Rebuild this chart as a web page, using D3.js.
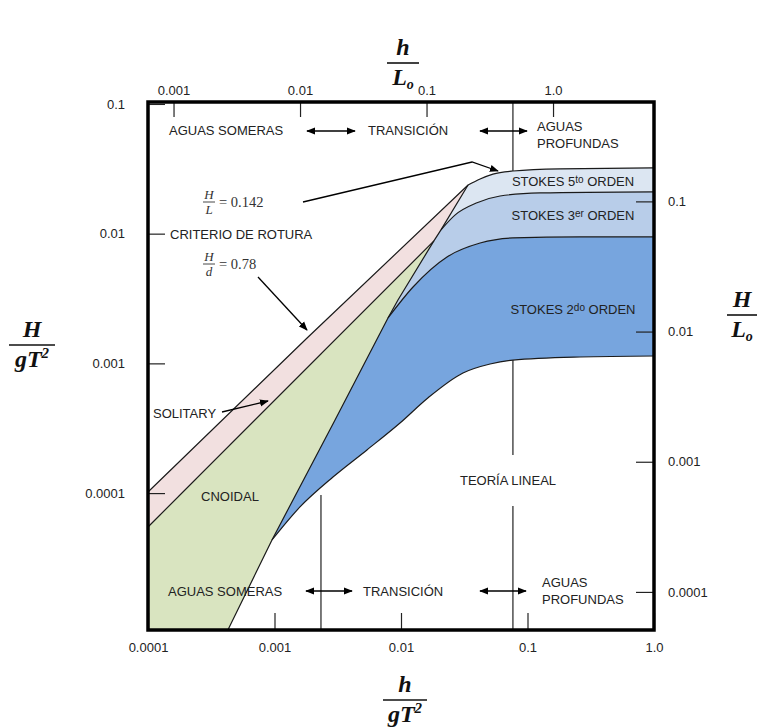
<!DOCTYPE html>
<html>
<head>
<meta charset="utf-8">
<script src="https://cdn.jsdelivr.net/npm/d3@7"></script>
<style>
body { margin: 0; background: #fff; }
svg { display: block; }
text { font-family: "Liberation Sans", Arial, sans-serif; fill: #222; }
.math text { font-family: "Liberation Serif", "Times New Roman", serif; font-style: italic; font-weight: bold; fill: #111; }
.small-math text { font-family: "Liberation Serif", "Times New Roman", serif; fill: #333; }
</style>
</head>
<body>
<svg width="758" height="727"></svg>
<script>
// tick values and labels
var bottomTicks = [0.0001, 0.001, 0.01, 0.1, 1];
var bottomLabels = ['0.0001', '0.001', '0.01', '0.1', '1.0'];
var leftTicks = [0.0001, 0.001, 0.01, 0.1];
var leftLabels = ['0.0001', '0.001', '0.01', '0.1'];
var topTicks = [0.001, 0.01, 0.1, 1];
var topLabels = ['0.001', '0.01', '0.1', '1.0'];
var rightTicks = [0.0001, 0.001, 0.01, 0.1];
var rightLabels = ['0.0001', '0.001', '0.01', '0.1'];

// boundary curves, points are [h/gT2, H/gT2]
var breakingLimit = [[0.0001, 0.000102], [0.00181, 0.00157], [0.0339, 0.0237], [0.0422, 0.0264],
    [0.0533, 0.0288], [0.0767, 0.0304], [0.181, 0.0316], [1, 0.0321]];
var solitaryLimit = [[0.0001, 0.0000548], [0.0182, 0.00879]];
var cnoidalLimit = [[0.000428, 0.0000088], [0.000955, 0.0000435], [0.00301, 0.000366], [0.00789, 0.00224],
    [0.00946, 0.00308], [0.0182, 0.00879], [0.0207, 0.0107], [0.0339, 0.0237]];
var stokes3Limit = [[0.0207, 0.0107], [0.0267, 0.0139], [0.0399, 0.0173], [0.0607, 0.0195],
    [0.1256, 0.0206], [1, 0.0210]];
var stokes2Limit = [[0.00789, 0.00224], [0.01245, 0.00388], [0.0231, 0.00661], [0.0422, 0.00847],
    [0.0767, 0.00927], [0.26, 0.00944], [1, 0.00944]];
var linearLimit = [[0.000955, 0.0000435], [0.00159, 0.0000782], [0.0029, 0.000133], [0.00538, 0.000215],
    [0.00982, 0.000347], [0.0163, 0.000541], [0.0309, 0.000843], [0.0506, 0.000989],
    [0.0767, 0.00106], [0.26, 0.00112], [1, 0.00114]];
// shallow / deep water limits: [h/gT2, H/gT2 from, H/gT2 to]
var depthLimits = [[0.00233, 0.0000088, 0.0000966], [0.0767, 0.0304, 0.1035],
    [0.0767, 0.000197, 0.00106], [0.0767, 0.0000088, 0.0000796]];

var svg = d3.select('svg');

var x = d3.scaleLog().domain([0.0001, 1]).range([148, 654]);
var y = d3.scaleLog().domain([0.0000088, 0.1035]).range([630, 102]);
// h/Lo and H/Lo scales (Lo = gT2 / 2pi)
var xTop = d3.scaleLog().domain([0.0001 * 2 * Math.PI, 2 * Math.PI]).range([148, 654]);
var yRight = d3.scaleLog().domain([0.000051, 0.58]).range([630, 102]);

var lin = d3.line().x(function(d){ return x(d[0]) }).y(function(d){ return y(d[1]) });
var smooth = d3.line().x(function(d){ return x(d[0]) }).y(function(d){ return y(d[1]) }).curve(d3.curveMonotoneX);

function rev(a) { return a.slice().reverse(); }
function cont(p) { return p.replace(/^M/, 'L'); }

var ymin = y.domain()[0];

var regions = [
    { fill: '#f2e0e0', d: lin(breakingLimit.slice(0, 3)) + cont(lin(rev(cnoidalLimit.slice(5)))) + cont(lin(rev(solitaryLimit))) + 'Z' },
    { fill: '#d9e4c0', d: lin(solitaryLimit) + cont(lin(rev(cnoidalLimit.slice(0, 6)).concat([[0.0001, ymin]]))) + 'Z' },
    { fill: '#dce6f2', d: smooth(breakingLimit.slice(2)) + cont(smooth(rev(stokes3Limit))) + cont(lin(cnoidalLimit.slice(6))) + 'Z' },
    { fill: '#b8cde9', d: smooth(stokes3Limit) + cont(smooth(rev(stokes2Limit))) + cont(lin(cnoidalLimit.slice(3, 7))) + 'Z' },
    { fill: '#77a5de', d: smooth(stokes2Limit) + cont(smooth(rev(linearLimit))) + cont(lin(cnoidalLimit.slice(1, 4))) + 'Z' }
];

svg.selectAll('path.region')
    .data(regions)
    .enter()
    .append('path')
    .attr('class', 'region')
    .attr('d', function(d){ return d.d })
    .attr('fill', function(d){ return d.fill })
    .attr('stroke', 'none');

var curves = [
    lin(breakingLimit.slice(0, 3)),
    smooth(breakingLimit.slice(2)),
    lin(solitaryLimit),
    lin(cnoidalLimit),
    smooth(stokes3Limit),
    smooth(stokes2Limit),
    smooth(linearLimit)
];

svg.selectAll('path.curve')
    .data(curves)
    .enter()
    .append('path')
    .attr('class', 'curve')
    .attr('d', function(d){ return d })
    .attr('fill', 'none')
    .attr('stroke', '#1a1a1a')
    .attr('stroke-width', 1.2);

svg.selectAll('line.limit')
    .data(depthLimits)
    .enter()
    .append('line')
    .attr('class', 'limit')
    .attr('x1', function(d){ return x(d[0]) })
    .attr('x2', function(d){ return x(d[0]) })
    .attr('y1', function(d){ return y(d[1]) })
    .attr('y2', function(d){ return y(d[2]) })
    .attr('stroke', '#222')
    .attr('stroke-width', 1.2);

// axes
function styleAxis(g) {
    g.select('.domain').remove();
    g.selectAll('.tick line').attr('stroke', '#222').attr('stroke-width', 1.2);
    g.selectAll('.tick text').attr('font-family', '"Liberation Sans", Arial, sans-serif').attr('font-size', 13).attr('fill', '#333');
}

svg.append('g')
    .attr('transform', 'translate(0,630)')
    .call(d3.axisBottom(x).tickValues(bottomTicks).tickFormat(function(d, i){ return bottomLabels[i] })
        .tickSizeInner(-17).tickSizeOuter(0).tickPadding(13))
    .call(styleAxis);

svg.append('g')
    .attr('transform', 'translate(148,0)')
    .call(d3.axisLeft(y).tickValues(leftTicks).tickFormat(function(d, i){ return leftLabels[i] })
        .tickSizeInner(-17).tickSizeOuter(0).tickPadding(23))
    .call(styleAxis);

svg.append('g')
    .attr('transform', 'translate(0,102)')
    .call(d3.axisTop(xTop).tickValues(topTicks).tickFormat(function(d, i){ return topLabels[i] })
        .tickSizeInner(-15).tickSizeOuter(0).tickPadding(7))
    .call(styleAxis);

svg.append('g')
    .attr('transform', 'translate(654,0)')
    .call(d3.axisRight(yRight).tickValues(rightTicks).tickFormat(function(d, i){ return rightLabels[i] })
        .tickSizeInner(-18).tickSizeOuter(0).tickPadding(14))
    .call(styleAxis);

// frame
svg.append('rect')
    .attr('x', 148).attr('y', 102)
    .attr('width', 506).attr('height', 528)
    .attr('fill', 'none')
    .attr('stroke', '#000')
    .attr('stroke-width', 3.5);

// arrow heads
var defs = svg.append('defs');
defs.append('marker')
    .attr('id', 'head')
    .attr('viewBox', '0 0 10 10')
    .attr('refX', 9).attr('refY', 5)
    .attr('markerWidth', 9).attr('markerHeight', 9)
    .attr('markerUnits', 'userSpaceOnUse')
    .attr('orient', 'auto-start-reverse')
    .append('path')
    .attr('d', 'M0,1 L10,5 L0,9 Z')
    .attr('fill', '#000');

function arrow(pts, both) {
    svg.append('path')
        .attr('d', d3.line()(pts))
        .attr('fill', 'none')
        .attr('stroke', '#000')
        .attr('stroke-width', 1.3)
        .attr('marker-end', 'url(#head)')
        .attr('marker-start', both ? 'url(#head)' : null);
}

function label(tx, ty, txt, anchor) {
    return svg.append('text')
        .attr('x', tx).attr('y', ty)
        .attr('dy', '0.35em')
        .attr('text-anchor', anchor || 'start')
        .attr('font-size', 13)
        .text(txt);
}

// water depth rows
label(169, 130, 'AGUAS SOMERAS');
arrow([[307, 131], [355, 131]], true);
label(368, 130, 'TRANSICIÓN');
arrow([[480, 131], [527, 131]], true);
label(537, 126, 'AGUAS');
label(537, 143, 'PROFUNDAS');

label(168, 591, 'AGUAS SOMERAS');
arrow([[306, 591], [352, 591]], true);
label(363, 591, 'TRANSICIÓN');
arrow([[480, 591], [526, 591]], true);
label(542, 582, 'AGUAS');
label(542, 599, 'PROFUNDAS');

label(508, 480, 'TEORÍA LINEAL', 'middle');
label(230, 496, 'CNOIDAL', 'middle');
label(153, 413, 'SOLITARY');
arrow([[222, 412], [268, 401]], false);
label(170, 234, 'CRITERIO DE ROTURA');

function stokes(cy, n, sup) {
    var t = label(573, cy, 'STOKES ' + n, 'middle');
    t.append('tspan').attr('font-size', 10).attr('dy', '-0.3em').text(sup);
    t.append('tspan').attr('font-size', 13).attr('dy', '0.3em').text(' ORDEN');
}
stokes(181, '5', 'to');
stokes(215, '3', 'er');
stokes(309, '2', 'do');

// breaking criterion formulas
function smallFrac(cx, barY, num, den, rest) {
    var g = svg.append('g').attr('class', 'small-math');
    g.append('line').attr('x1', cx - 6).attr('x2', cx + 6).attr('y1', barY).attr('y2', barY)
        .attr('stroke', '#333').attr('stroke-width', 0.9);
    g.append('text').attr('x', cx).attr('y', barY - 3).attr('text-anchor', 'middle')
        .attr('font-size', 13).attr('font-style', 'italic').text(num);
    g.append('text').attr('x', cx).attr('y', barY + 12).attr('text-anchor', 'middle')
        .attr('font-size', 13).attr('font-style', 'italic').text(den);
    g.append('text').attr('x', cx + 10).attr('y', barY + 5)
        .attr('font-size', 14.5).text(rest);
}
smallFrac(209, 202, 'H', 'L', '= 0.142');
smallFrac(209, 264, 'H', 'd', '= 0.78');
arrow([[303, 202], [472, 162], [498, 171]], false);
arrow([[258, 277], [307, 330]], false);

// axis titles
function fraction(cx, barY, halfW, num, den) {
    var g = svg.append('g').attr('class', 'math');
    g.append('line').attr('x1', cx - halfW).attr('x2', cx + halfW).attr('y1', barY).attr('y2', barY)
        .attr('stroke', '#111').attr('stroke-width', 1.6);
    [[num, barY - 8], [den, barY + 22]].forEach(function(p){
        var t = g.append('text').attr('x', cx).attr('y', p[1]).attr('text-anchor', 'middle').attr('font-size', 24);
        p[0].forEach(function(s){
            if (s[1] === 'sub') t.append('tspan').attr('font-size', 14).attr('dy', 4).text(s[0]);
            else if (s[1] === 'sup') t.append('tspan').attr('font-size', 15).attr('dy', -9).text(s[0]);
            else t.append('tspan').text(s[0]);
        });
    });
}
fraction(403, 63, 16, [['h']], [['L'], ['o', 'sub']]);
fraction(405, 700, 22, [['h']], [['g'], ['T'], ['2', 'sup']]);
fraction(32, 345, 23, [['H']], [['g'], ['T'], ['2', 'sup']]);
fraction(742, 315, 15, [['H']], [['L'], ['o', 'sub']]);
</script>
</body>
</html>
